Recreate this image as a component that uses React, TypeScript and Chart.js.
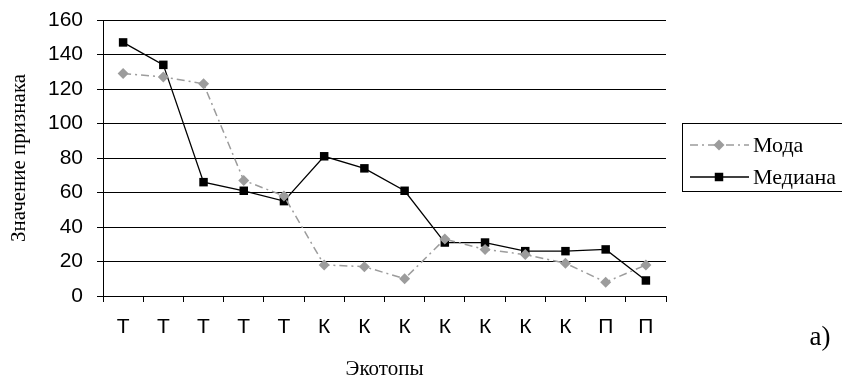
import React, { useEffect, useRef } from "react";
import { Chart, registerables } from "chart.js";

Chart.register(...registerables);

const categories = ["Т", "Т", "Т", "Т", "Т", "К", "К", "К", "К", "К", "К", "К", "П", "П"];
const modeValues = [129, 127, 123, 67, 58, 18, 17, 10, 33, 27, 24, 19, 8, 18];
const medianValues = [147, 134, 66, 61, 55, 81, 74, 61, 31, 31, 26, 26, 27, 9];
const seriesNames = ["Мода", "Медиана"];
const yTitle = "Значение признака";
const xTitle = "Экотопы";
const panelLabel = "а)";

const SANS = "Arial, 'Liberation Sans', sans-serif";
const SERIF = "'Times New Roman', 'Liberation Serif', serif";
const GRAY = "#9c9c9c";
const MODE_DASH = [8, 4, 2, 4];

const legendPlugin = {
  id: "boxLegend",
  afterDraw(chart: any) {
    const ctx = chart.ctx;
    ctx.save();
    ctx.strokeStyle = "#000";
    ctx.lineWidth = 1;
    ctx.strokeRect(682.5, 123.5, 170, 68);
    const items = chart.data.datasets.map((ds: any, i: number) => ({ ds, y: i === 0 ? 145 : 177 }));
    items.forEach(({ ds, y }: any) => {
      ctx.beginPath();
      ctx.strokeStyle = ds.borderColor;
      ctx.lineWidth = ds.borderWidth;
      ctx.setLineDash(ds.borderDash || []);
      ctx.moveTo(690, y);
      ctx.lineTo(749, y);
      ctx.stroke();
      ctx.setLineDash([]);
      ctx.fillStyle = ds.pointBackgroundColor;
      const r = ds.pointRadius;
      ctx.beginPath();
      if (ds.pointStyle === "rectRot") {
        ctx.moveTo(719, y - r);
        ctx.lineTo(719 + r, y);
        ctx.lineTo(719, y + r);
        ctx.lineTo(719 - r, y);
        ctx.closePath();
      } else {
        const s = r * Math.SQRT1_2;
        ctx.rect(719 - s, y - s, 2 * s, 2 * s);
      }
      ctx.fill();
      ctx.fillStyle = "#000";
      ctx.font = "22px " + SERIF;
      ctx.textBaseline = "alphabetic";
      ctx.textAlign = "left";
      ctx.fillText(ds.label, 753, y + 7);
    });
    ctx.font = "27px " + SERIF;
    ctx.textAlign = "center";
    ctx.textBaseline = "middle";
    ctx.fillText(panelLabel, 820, 338);
    ctx.restore();
  },
};

export default function App() {
  const ref = useRef<HTMLCanvasElement>(null);
  useEffect(() => {
    if (!ref.current) return;
    const chart = new Chart(ref.current, {
      type: "line",
      data: {
        labels: categories,
        datasets: [
          {
            label: seriesNames[0],
            data: modeValues,
            borderColor: GRAY,
            backgroundColor: GRAY,
            pointBackgroundColor: GRAY,
            pointBorderColor: GRAY,
            borderWidth: 1.5,
            borderDash: MODE_DASH,
            pointStyle: "rectRot",
            pointRadius: 5.5,
            pointBorderWidth: 0,
            tension: 0,
          },
          {
            label: seriesNames[1],
            data: medianValues,
            borderColor: "#000",
            backgroundColor: "#000",
            pointBackgroundColor: "#000",
            pointBorderColor: "#000",
            borderWidth: 1.3,
            pointStyle: "rect",
            pointRadius: 6,
            pointBorderWidth: 0,
            tension: 0,
          },
        ],
      } as any,
      options: {
        animation: false,
        responsive: false,
        layout: { padding: { top: 20, right: 176, bottom: 0, left: 0 } },
        plugins: { legend: { display: false }, tooltip: { enabled: false } },
        scales: {
          x: {
            offset: true,
            grid: {
              display: true,
              offset: true,
              drawOnChartArea: false,
              drawTicks: true,
              tickLength: 6,
              color: "#000",
            },
            border: { display: true, color: "#000" },
            ticks: {
              color: "#000",
              font: { family: SANS, size: 21 },
              padding: 13,
              maxRotation: 0,
              autoSkip: false,
            },
            title: {
              display: true,
              text: xTitle,
              color: "#000",
              font: { family: SERIF, size: 21, lineHeight: 1 },
              padding: { top: 0, bottom: -2 },
            },
            afterFit(scale: any) {
              scale.height = 82;
              scale.paddingLeft = 0;
              scale.paddingRight = 0;
            },
          },
          y: {
            min: 0,
            max: 160,
            ticks: {
              stepSize: 20,
              color: "#000",
              font: { family: SANS, size: 21 },
              padding: 14,
            },
            grid: { color: "#000", lineWidth: 1, tickLength: 6, drawTicks: true },
            border: { display: true, color: "#000" },
            title: {
              display: true,
              text: yTitle,
              color: "#000",
              font: { family: SERIF, size: 21, lineHeight: 1 },
              padding: { top: 9, bottom: 0 },
            },
            afterFit(scale: any) {
              scale.width = 103;
              scale.paddingTop = 0;
              scale.paddingBottom = 0;
            },
          },
        },
      } as any,
      plugins: [legendPlugin],
    });
    return () => chart.destroy();
  }, []);
  return (
    <div style={{ position: "absolute", left: 0, top: 0, width: 842, height: 378, background: "#fff" }}>
      <canvas ref={ref} width={842} height={378} style={{ display: "block" }} />
    </div>
  );
}
